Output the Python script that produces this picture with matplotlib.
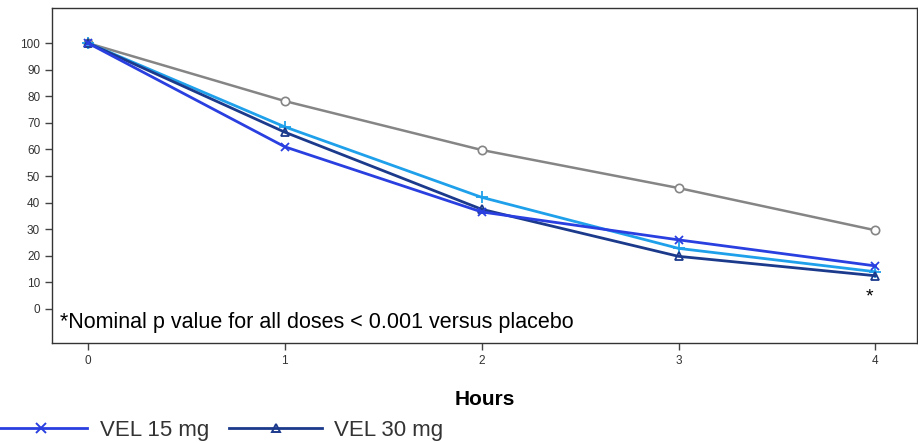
import numpy as np
import matplotlib.pyplot as plt
from matplotlib.lines import Line2D

plt.rcParams['font.family'] = ['Liberation Sans', 'DejaVu Sans']

hours = [0, 1, 2, 3, 4]
placebo = [100, 78.2, 59.8, 45.5, 29.6]
vel_7_5 = [100, 68.5, 42.0, 22.8, 14.0]
vel_15 = [100, 61.0, 36.5, 26.0, 16.2]
vel_30 = [100, 66.5, 37.5, 19.8, 12.5]

c_placebo = '#858585'
c_7_5 = '#1fa0ea'
c_15 = '#2a3fe0'
c_30 = '#1c3a8c'


def main():
    fig = plt.figure(figsize=(9.18, 4.43), dpi=100)
    ax = fig.add_axes([0.0566, 0.2257, 0.942, 0.7562])

    ax.plot(hours, placebo, color=c_placebo, lw=1.8, marker='o', ms=6,
            mfc='white', mec=c_placebo, mew=1.2)
    ax.plot(hours, vel_7_5, color=c_7_5, lw=2, marker='+', ms=8, mew=1.3)
    ax.plot(hours, vel_30, color=c_30, lw=2, marker='^', ms=5.5,
            mfc='none', mec=c_30, mew=1.3)
    ax.plot(hours, vel_15, color=c_15, lw=2, marker='x', ms=6, mew=1.3)

    ax.set_xlim(-0.183, 4.21)
    ax.set_ylim(-12.8, 113.2)
    ax.set_xticks(hours)
    ax.set_yticks(np.arange(0, 101, 10))
    ax.tick_params(direction='out', length=5, width=1, colors='#444444',
                   labelsize=8.5, labelcolor='#333333')
    for s in ax.spines.values():
        s.set_color('#333333')
        s.set_linewidth(1)

    ax.text(-0.14, -5, '*Nominal p value for all doses < 0.001 versus placebo',
            fontsize=15.5, va='center', ha='left', color='black')
    ax.text(3.97, 4.5, '*', fontsize=14, ha='center', va='center', color='black')

    ax.set_xlabel('Hours', fontsize=15, fontweight='bold', labelpad=17)

    handles = [
        Line2D([], [], color=c_15, lw=2, marker='x', ms=7, mew=1.4),
        Line2D([], [], color=c_30, lw=2, marker='^', ms=6, mfc='none', mec=c_30, mew=1.4),
    ]
    fig.legend(handles, ['VEL 15 mg', 'VEL 30 mg'], loc='center left',
               bbox_to_anchor=(-0.0065, 0.029), ncol=2, frameon=False,
               fontsize=16, handlelength=4.2, handletextpad=0.55,
               columnspacing=0.9, borderpad=0, borderaxespad=0,
               labelcolor='#333333')

    fig.savefig('out.png', dpi=100)


if __name__ == '__main__':
    main()
